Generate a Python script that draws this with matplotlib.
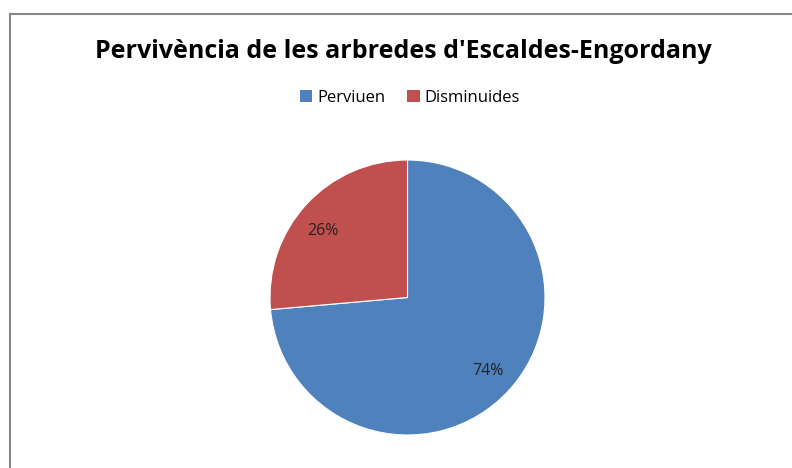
import matplotlib.pyplot as plt
from matplotlib.lines import Line2D
from matplotlib.patches import Patch

# Chart data
labels = ['Perviuen', 'Disminuides']
values = [73.6, 26.4]
colors = ['#4F81BD', '#C0504D']
title = "Pervivència de les arbredes d'Escaldes-Engordany"

W, H = 792, 468
fig = plt.figure(figsize=(W / 100, H / 100), dpi=100)
fig.patch.set_facecolor('white')

# chart frame (only left and top edges are visible in the crop)
fig.add_artist(Line2D([9.5 / W, 9.5 / W], [0, 1 - 14 / H], transform=fig.transFigure,
                      color='#868686', lw=1.5))
fig.add_artist(Line2D([9.5 / W, 1], [1 - 14 / H, 1 - 14 / H], transform=fig.transFigure,
                      color='#868686', lw=1.5))

# pie axes: centre (407, 297), radius ~137 px
cx, cy, r = 407.5, 297.5, 137.5
ax = fig.add_axes([(cx - r) / W, 1 - (cy + r) / H, 2 * r / W, 2 * r / H])
wedges, texts, autotexts = ax.pie(values, colors=colors, startangle=90, counterclock=False,
       autopct=lambda p: '%d%%' % round(p), pctdistance=0.79,
       wedgeprops=dict(edgecolor='white', linewidth=0.8),
       textprops=dict(fontsize=11.5, family='Open Sans', color='#222222'))
# small nudge of the red label, as placed in the original
x, y = autotexts[1].get_position()
autotexts[1].set_position((x - 0.03, y - 0.05))
ax.set_aspect('equal')
ax.set_xlim(-1, 1)
ax.set_ylim(-1, 1)

fig.text(403 / W, 1 - 51 / H, title, ha='center', va='center',
         fontsize=18, fontweight='bold', family='Open Sans', color='black')

handles = [Patch(facecolor=c, edgecolor='none') for c in colors]
fig.legend(handles, labels, loc='center', bbox_to_anchor=(410 / W, 1 - 98 / H),
           ncol=2, frameon=False, prop=dict(family='Open Sans', size=12),
           handlelength=0.75, handleheight=0.75, handletextpad=0.3, columnspacing=1.3)

fig.savefig('out.png', dpi=100)
